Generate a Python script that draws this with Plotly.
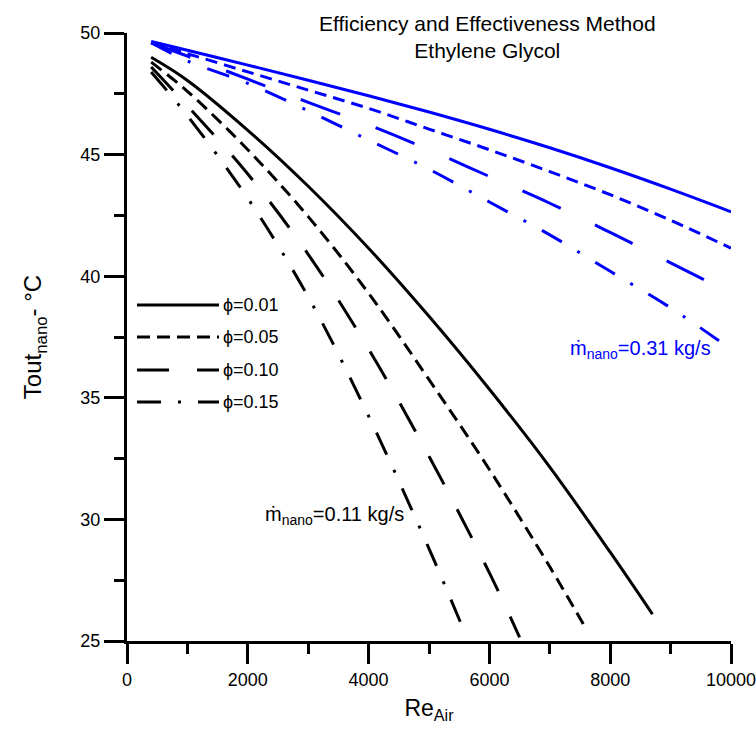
import plotly.graph_objects as go

# ---- data ----
phi_labels = ["ϕ=0.01", "ϕ=0.05", "ϕ=0.10", "ϕ=0.15"]

# m_nano = 0.11 kg/s (black)
re_b001 = [400, 1000, 2000, 3000, 4000, 5000, 6000, 7000, 8000, 8700]
t_b001 = [49.0, 48.05, 46.0, 43.7, 41.15, 38.35, 35.35, 32.15, 28.65, 26.1]
re_b005 = [400, 1000, 2000, 3000, 4000, 5000, 6000, 7000, 7600]
t_b005 = [48.8, 47.6, 45.2, 42.45, 39.3, 35.75, 32.05, 28.05, 25.5]
re_b010 = [400, 1000, 2000, 3000, 4000, 5000, 6000, 6500]
t_b010 = [48.6, 47.0, 44.2, 40.9, 37.0, 32.6, 27.8, 25.15]
re_b015 = [400, 1000, 2000, 3000, 4000, 5000, 5600]
t_b015 = [48.4, 46.6, 43.2, 39.15, 34.25, 28.8, 25.3]

# m_nano = 0.31 kg/s (blue)
re_u = [400, 1000, 2000, 3000, 4000, 5000, 6000, 7000, 8000, 9000, 10000]
t_u001 = [49.65, 49.29, 48.68, 48.06, 47.42, 46.75, 46.04, 45.28, 44.46, 43.58, 42.65]
t_u005 = [49.6, 49.15, 48.4, 47.65, 46.9, 46.05, 45.2, 44.3, 43.35, 42.3, 41.15]
re_u010 = [400, 1000, 2000, 3000, 4000, 5000, 6000, 7000, 8000, 9000, 9600]
t_u010 = [49.6, 49.05, 48.1, 47.15, 46.22, 45.2, 44.1, 43.0, 41.8, 40.55, 39.8]
t_u015 = [49.6, 48.85, 47.93, 46.8, 45.6, 44.4, 43.05, 41.7, 40.2, 38.7, 37.0]

x_ticks = [0, 2000, 4000, 6000, 8000, 10000]
x_ticktext = ["0", "2000", "4000", "6000", "8000", "10000"]
y_ticks = [25, 30, 35, 40, 45, 50]

FONT = "Liberation Sans, Arial, sans-serif"
BLUE = "#0000FF"
dash_styles = ["solid", "13px,7px", "32px,28px", "24px,17px,3px,17px"]
blue_dash = ["solid", "12px,7px", "42px,38px", "23px,18px,3px,18px"]

fig = go.Figure()

black_series = [(re_b001, t_b001), (re_b005, t_b005), (re_b010, t_b010), (re_b015, t_b015)]
blue_series = [(re_u, t_u001), (re_u, t_u005), (re_u010, t_u010), (re_u, t_u015)]

for i, (xs, ys) in enumerate(blue_series):
    fig.add_trace(go.Scatter(x=xs, y=ys, mode="lines", line_shape="spline",
                             line=dict(color=BLUE, width=3, dash=blue_dash[i]),
                             showlegend=False, hoverinfo="skip"))
for i, (xs, ys) in enumerate(black_series):
    fig.add_trace(go.Scatter(x=xs, y=ys, mode="lines", line_shape="spline", name=phi_labels[i],
                             line=dict(color="black", width=3, dash=dash_styles[i]),
                             showlegend=False, hoverinfo="skip"))

# manual legend (long line samples as in the reference)
W, H = 756, 730
L, R, T, B = 127, 25, 33, 89
pw, ph = W - L - R, H - T - B
def px(xp):
    return (xp - L) / pw
def py(yp):
    return 1 - (yp - T) / ph

leg_y = [305, 337, 370, 402]
shapes = []
annotations = []
for i, lab in enumerate(phi_labels):
    shapes.append(dict(type="line", xref="paper", yref="paper",
                       x0=px(137), x1=px(219), y0=py(leg_y[i]), y1=py(leg_y[i]),
                       line=dict(color="black", width=3, dash=dash_styles[i])))
    annotations.append(dict(xref="paper", yref="paper", x=px(221), y=py(leg_y[i]),
                            xanchor="left", yanchor="middle", showarrow=False,
                            text=lab, font=dict(family=FONT, size=18, color="black")))

annotations.append(dict(xref="paper", yref="paper", x=px(487), y=py(37),
                        xanchor="center", yanchor="middle", showarrow=False,
                        text="Efficiency and Effectiveness Method<br>Ethylene Glycol",
                        font=dict(family=FONT, size=21, color="black")))
annotations.append(dict(xref="paper", yref="paper", x=px(263), y=py(515),
                        xanchor="left", yanchor="middle", showarrow=False,
                        text="ṁ<sub>nano</sub>=0.11 kg/s",
                        font=dict(family=FONT, size=20, color="black")))
annotations.append(dict(xref="paper", yref="paper", x=px(568), y=py(349),
                        xanchor="left", yanchor="middle", showarrow=False,
                        text="ṁ<sub>nano</sub>=0.31 kg/s",
                        font=dict(family=FONT, size=20, color=BLUE)))

axis_common = dict(showline=True, linewidth=3, linecolor="black", mirror=False,
                   ticks="outside", ticklen=20, tickwidth=3, tickcolor="black",
                   showgrid=False, zeroline=False, ticklabeloverflow="allow",
                   automargin=False,
                   tickfont=dict(family=FONT, size=18, color="black"))

fig.update_layout(
    width=W, height=H,
    margin=dict(l=L, r=R, t=T, b=B, autoexpand=False),
    plot_bgcolor="white", paper_bgcolor="white",
    showlegend=False,
    shapes=shapes,
    annotations=annotations,
    xaxis=dict(range=[0, 10000], tickvals=x_ticks, ticktext=x_ticktext, **axis_common,
               minor=dict(dtick=1000, tick0=0, ticklen=10, tickwidth=3, ticks="outside",
                          tickcolor="black", showgrid=False),
               title=dict(text="Re<sub>Air</sub>", font=dict(family=FONT, size=23, color="black"),
                          standoff=12)),
    yaxis=dict(range=[25, 50], tickvals=y_ticks, **axis_common,
               minor=dict(dtick=2.5, tick0=25, ticklen=10, tickwidth=3, ticks="outside",
                          tickcolor="black", showgrid=False),
               title=dict(text="Tout<sub>nano</sub>- °C", font=dict(family=FONT, size=24, color="black"),
                          standoff=32)),
)

fig.write_html("out.html")
